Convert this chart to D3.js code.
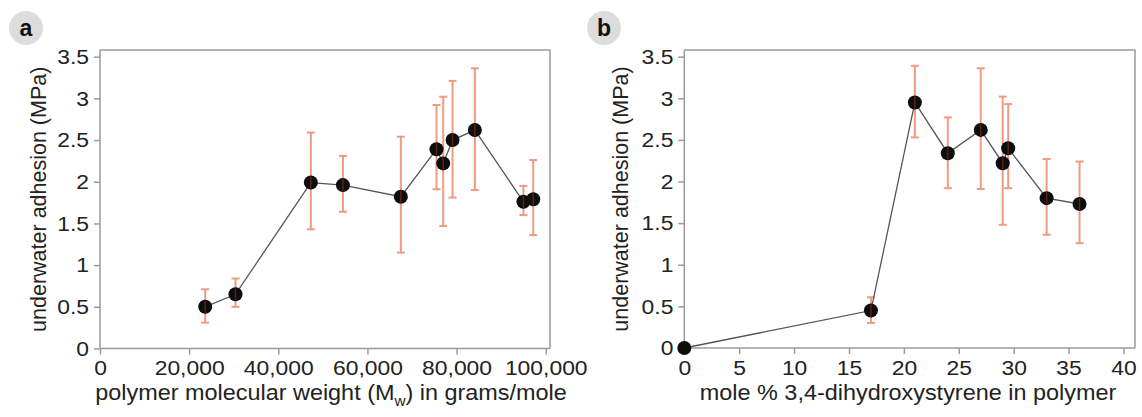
<!DOCTYPE html>
<html>
<head>
<meta charset="utf-8">
<script src="https://cdn.jsdelivr.net/npm/d3@7"></script>
<style>
  body { margin: 0; background: #fff; }
  svg { font-family: "Liberation Sans", Arial, sans-serif; }
  .axis path, .axis line { stroke: #9a9a9a; stroke-width: 1.5; }
  .axis text { fill: #222; font-size: 21px; }
</style>
</head>
<body>
<svg id="chart" width="1142" height="417"></svg>
<script>
// panel a: molecular weight vs adhesion
const mwValues = [23600, 30400, 47300, 54500, 67500, 75500, 77000, 79100, 84100, 95000, 97200];
const mwAdhesion = [0.50, 0.65, 1.99, 1.96, 1.82, 2.39, 2.22, 2.50, 2.62, 1.76, 1.79];
const mwErrHigh = [0.71, 0.84, 2.59, 2.31, 2.54, 2.92, 3.02, 3.21, 3.36, 1.95, 2.26];
const mwErrLow = [0.31, 0.50, 1.43, 1.64, 1.15, 1.91, 1.47, 1.81, 1.90, 1.60, 1.36];

// panel b: mole % catechol vs adhesion
const molePct = [0, 17, 21, 24, 27, 29, 29.5, 33, 36];
const moleAdhesion = [0, 0.45, 2.95, 2.34, 2.62, 2.22, 2.40, 1.80, 1.73];
const moleErrHigh = [null, 0.61, 3.39, 2.77, 3.36, 3.02, 2.93, 2.27, 2.24];
const moleErrLow = [null, 0.30, 2.53, 1.92, 1.91, 1.48, 1.92, 1.36, 1.26];

const yTicks = [0, 0.5, 1, 1.5, 2, 2.5, 3, 3.5];
const mwTicks = [0, 20000, 40000, 60000, 80000, 100000];
const moleTicks = [0, 5, 10, 15, 20, 25, 30, 35, 40];

const svg = d3.select("#chart");
const errColor = "#f09a82";
// the original figure is a bit wider than tall, text included
const stretch = 1.09;

function drawPanel(opts) {
  const { left, right, top, bottom } = opts;
  const g = svg.append("g");
  const x = d3.scaleLinear().domain(opts.xDomain).range([left, right]);
  const y = d3.scaleLinear().domain([0, 3.58]).range([bottom, top]);

  // frame top and right
  g.append("path")
    .attr("d", `M${left},${top}H${right}V${bottom}`)
    .attr("fill", "none")
    .attr("stroke", "#9a9a9a")
    .attr("stroke-width", 1.5);

  g.append("g")
    .attr("class", "axis")
    .attr("transform", "translate(0," + bottom + ")")
    .call(d3.axisBottom(x).tickValues(opts.xTicks).tickFormat(opts.xFormat).tickSize(6).tickPadding(6).tickSizeOuter(0))
    .call(a => a.select(".domain").attr("d", `M${left},0H${right}`))
    .call(a => a.selectAll(".tick text").attr("transform", `scale(${stretch},1)`));

  g.append("g")
    .attr("class", "axis")
    .attr("transform", "translate(" + left + ",0)")
    .call(d3.axisLeft(y).tickValues(yTicks).tickFormat(d3.format("~g")).tickSize(6).tickPadding(4).tickSizeOuter(0))
    .call(a => a.select(".domain").attr("d", `M0,${bottom}V${top}`))
    .call(a => a.selectAll(".tick text").attr("transform", `scale(${stretch},1)`));

  // y label
  g.append("text")
    .attr("transform", `translate(${opts.yLabelX},${(top + bottom) / 2}) rotate(-90)`)
    .attr("text-anchor", "middle")
    .attr("dy", "0.35em")
    .style("font-size", "21.5px")
    .attr("fill", "#222")
    .text("underwater adhesion (MPa)");

  // x label
  opts.xLabel(g.append("text")
    .attr("transform", `translate(${opts.xLabelX},400) scale(${stretch},1)`)
    .attr("text-anchor", "middle")
    .style("font-size", "21.5px")
    .attr("fill", "#222"));

  const data = opts.xs.map((v, i) => ({ x: v, y: opts.ys[i], hi: opts.hi[i], lo: opts.lo[i] }));
  const withErr = data.filter(d => d.hi != null);

  // error bars
  const eb = g.append("g").attr("stroke", errColor).attr("stroke-width", 2);
  eb.selectAll(".v").data(withErr).join("line")
    .attr("x1", d => x(d.x)).attr("x2", d => x(d.x))
    .attr("y1", d => y(d.hi)).attr("y2", d => y(d.lo));
  eb.selectAll(".t").data(withErr).join("line")
    .attr("x1", d => x(d.x) - 4).attr("x2", d => x(d.x) + 4)
    .attr("y1", d => y(d.hi)).attr("y2", d => y(d.hi));
  eb.selectAll(".b").data(withErr).join("line")
    .attr("x1", d => x(d.x) - 4).attr("x2", d => x(d.x) + 4)
    .attr("y1", d => y(d.lo)).attr("y2", d => y(d.lo));

  // connecting line
  g.append("path")
    .datum(data)
    .attr("fill", "none")
    .attr("stroke", "#555")
    .attr("stroke-width", 1.3)
    .attr("d", d3.line().x(d => x(d.x)).y(d => y(d.y)));

  g.selectAll("circle.pt").data(data).join("circle")
    .attr("class", "pt")
    .attr("cx", d => x(d.x))
    .attr("cy", d => y(d.y))
    .attr("r", 7)
    .attr("fill", "#0d0d0d");

  // faint stripe of the error bar through each dot
  g.selectAll("line.stripe").data(withErr).join("line")
    .attr("class", "stripe")
    .attr("x1", d => x(d.x)).attr("x2", d => x(d.x))
    .attr("y1", d => y(d.y) - 6).attr("y2", d => y(d.y) + 6)
    .attr("stroke", "#5a2318").attr("stroke-width", 1.5);

  // panel letter
  svg.append("circle")
    .attr("cx", opts.letterX).attr("cy", 28).attr("r", 17)
    .attr("fill", "#dcdcdc");
  svg.append("text")
    .attr("x", opts.letterX).attr("y", 28)
    .attr("dy", "0.35em")
    .attr("text-anchor", "middle")
    .style("font-size", "23px")
    .style("font-weight", "bold")
    .attr("fill", "#111")
    .text(opts.letter);
}

drawPanel({
  left: 100, right: 550, top: 50, bottom: 348.5,
  xDomain: [0, 100960],
  xTicks: mwTicks, xFormat: d3.format(","),
  xs: mwValues, ys: mwAdhesion, hi: mwErrHigh, lo: mwErrLow,
  yLabelX: 38, xLabelX: 331, letterX: 26, letter: "a",
  xLabel: t => {
    t.append("tspan").text("polymer molecular weight (M");
    t.append("tspan").attr("dy", 6).style("font-size", "14px").text("w");
    t.append("tspan").attr("dy", -6).text(") in grams/mole");
  }
});

drawPanel({
  left: 684.3, right: 1135, top: 50, bottom: 348,
  xDomain: [0, 41.05],
  xTicks: moleTicks, xFormat: d3.format("d"),
  xs: molePct, ys: moleAdhesion, hi: moleErrHigh, lo: moleErrLow,
  yLabelX: 620, xLabelX: 908, letterX: 604, letter: "b",
  xLabel: t => t.text("mole % 3,4-dihydroxystyrene in polymer")
});
</script>
</body>
</html>
